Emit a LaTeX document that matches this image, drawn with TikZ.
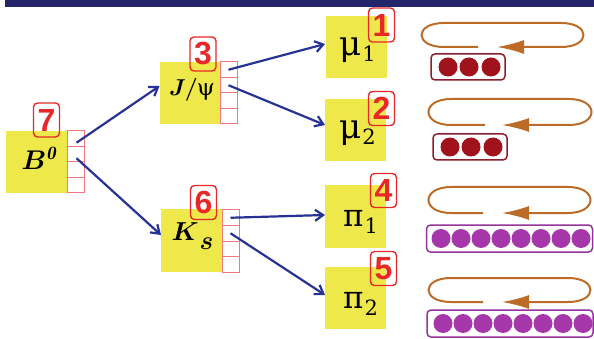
\RequirePackage{fix-cm}
\documentclass[tikz,border=0pt]{standalone}
\usepackage{amsmath,amsbsy}
\usepackage{fontspec}
\newfontfamily\grk{DejaVu Serif}
\newfontfamily\numf{Liberation Sans}
\usetikzlibrary{arrows.meta,calc}
\definecolor{bandc}{RGB}{36,36,106}
\definecolor{ybox}{RGB}{238,232,74}
\definecolor{cellc}{RGB}{240,120,130}
\definecolor{labc}{RGB}{232,40,40}
\definecolor{arrc}{RGB}{38,50,148}
\definecolor{loopc}{RGB}{188,108,40}
\definecolor{redd}{RGB}{160,18,28}
\definecolor{redb}{RGB}{140,30,45}
\definecolor{purd}{RGB}{165,55,170}
\definecolor{purb}{RGB}{150,50,155}
\begin{document}
\begin{tikzpicture}[x=1pt,y=-1pt,
  part/.style={fill=ybox, minimum width=61pt, minimum height=62pt, inner sep=0pt, outer sep=0pt},
  ptext/.style={inner sep=0pt, text=black},
  cell/.style={draw=cellc, line width=1pt, minimum width=17pt, minimum height=15.5pt, inner sep=0pt, outer sep=0pt},
  tag/.style={draw=labc, line width=1.4pt, rounded corners=4pt, minimum width=26pt, minimum height=34pt, inner sep=0pt, text=labc, font=\numf\bfseries\fontsize{32}{32}\selectfont},
  decay/.style={draw=arrc, line width=2.2pt, -{Straight Barb[length=8pt,width=11pt]}},
  orbit/.style={draw=loopc, line width=2pt, -{Latex[length=27pt,width=14pt]}},
  pillred/.style={draw=redb, line width=1.5pt, rounded corners=4pt, minimum width=74pt, minimum height=26pt, inner sep=0pt},
  pillpur/.style={draw=purb, line width=1.5pt, rounded corners=4pt, minimum width=166pt, minimum height=27pt, inner sep=0pt},
  dotred/.style={fill=redd},
  dotpur/.style={fill=purd}
]
\useasboundingbox (0,0) rectangle (594,339);
\fill[bandc] (5,0) rectangle (594,7);

% particle boxes
\node[part] (b0) at (36,162) {};
\node[part] (jpsi) at (190,93) {};
\node[part] (ks) at (191.5,240.5) {};
\node[part] (mu1) at (356.5,47) {};
\node[part] (mu2) at (355.5,130) {};
\node[part] (pi1) at (355.5,216.5) {};
\node[part] (pi2) at (355.5,297.5) {};

% texts
\node[ptext] (b0t) at (39,158) {\fontsize{27}{27}\selectfont$\boldsymbol{B^{\mathit{0}}}$};
\node[ptext] (jpsit) at (192,90) {\fontsize{23}{23}\selectfont$\boldsymbol{J}$\kern-1pt$\boldsymbol{/}$\kern-1pt{\grk\fontsize{23}{23}\selectfont ψ}};
\node[ptext] (kst) at (192.5,236.5) {\fontsize{26}{26}\selectfont$\boldsymbol{K}$\kern1pt\raisebox{-9pt}{$\boldsymbol{s}$}};
\node[ptext] (mu1t) at ($(mu1)+(1,3.5)$) {\grk\fontsize{34}{34}\selectfont μ\kern1pt\raisebox{-6pt}{\fontsize{21}{21}\selectfont 1}};
\node[ptext] (mu2t) at ($(mu2)+(2,3.5)$) {\grk\fontsize{34}{34}\selectfont μ\kern1pt\raisebox{-6pt}{\fontsize{21}{21}\selectfont 2}};
\node[ptext] (pi1t) at ($(pi1)+(5,5)$) {\grk\fontsize{31}{31}\selectfont π\kern1pt\raisebox{-7pt}{\fontsize{21}{21}\selectfont 1}};
\node[ptext] (pi2t) at ($(pi2)+(5,6)$) {\grk\fontsize{31}{31}\selectfont π\kern1pt\raisebox{-7pt}{\fontsize{21}{21}\selectfont 2}};

% cell columns
\foreach \i/\y in {1/138.75,2/154.25,3/169.75,4/185.25} {\node[cell] (b0c\i) at (75.5,\y) {};}
\foreach \i/\y in {1/69.75,2/85.25,3/100.75,4/116.25} {\node[cell] (jc\i) at (228.5,\y) {};}
\foreach \i/\y in {1/217.75,2/233.25,3/248.75,4/264.25} {\node[cell] (kc\i) at (230.5,\y) {};}

% tags
\node[tag] (t7) at (46.5,120) {7};
\node[tag] (t3) at (203,54) {3};
\node[tag] (t6) at (203.5,202.5) {6};
\node[tag] (t1) at (381.5,25) {1};
\node[tag] (t2) at (381.5,108.5) {2};
\node[tag] (t4) at (383.5,190.5) {4};
\node[tag] (t5) at (383.5,268.5) {5};

% decay arrows
\draw[decay] ($(b0c1.center)+(1,4)$) -- ($(jpsi.west)+(0,-7)$);
\draw[decay] ($(b0c2.center)+(1,4)$) -- ($(ks.west)+(0,-5.5)$);
\draw[decay] (jc1.center) -- ($(mu1.west)+(-1,-3)$);
\draw[decay] (jc2.center) -- ($(mu2.west)+(0,-5)$);
\draw[decay] (kc1.center) -- ($(pi1.west)+(0,-1.5)$);
\draw[decay] (kc2.center) -- ($(pi2.west)+(0,-2.5)$);

% orbits
\draw[orbit] (478,47) -- (444,47) .. controls (414,47) and (414,23) .. (444,23) -- (561,23) .. controls (591,23) and (591,47) .. (561,47) -- (497,47);
\draw[orbit] (485,125) -- (451,125) .. controls (421,125) and (421,99) .. (451,99) -- (569,99) .. controls (599,99) and (599,125) .. (569,125) -- (502,125);
\draw[orbit] (483,213) -- (451,213) .. controls (421,213) and (421,187) .. (451,187) -- (568,187) .. controls (598,187) and (598,213) .. (568,213) -- (502,213);
\draw[orbit] (483,302) -- (451,302) .. controls (421,302) and (421,278) .. (451,278) -- (568,278) .. controls (598,278) and (598,302) .. (568,302) -- (502,302);

% pills
\node[pillred] (r1) at (468,67) {};
\foreach \x in {448,469,491} {\fill[dotred] (\x,67) circle (9.5);}
\node[pillred] (r2) at (470,147) {};
\foreach \x in {450,471,493} {\fill[dotred] (\x,147) circle (9.5);}
\node[pillpur] (p1) at (509.5,238.5) {};
\foreach \i in {0,...,7} {\fill[dotpur] (441+20*\i,238.5) circle (9.5);}
\node[pillpur] (p2) at (510,323.5) {};
\foreach \i in {0,...,7} {\fill[dotpur] (443+20*\i,323.5) circle (9.5);}
\end{tikzpicture}
\end{document}
